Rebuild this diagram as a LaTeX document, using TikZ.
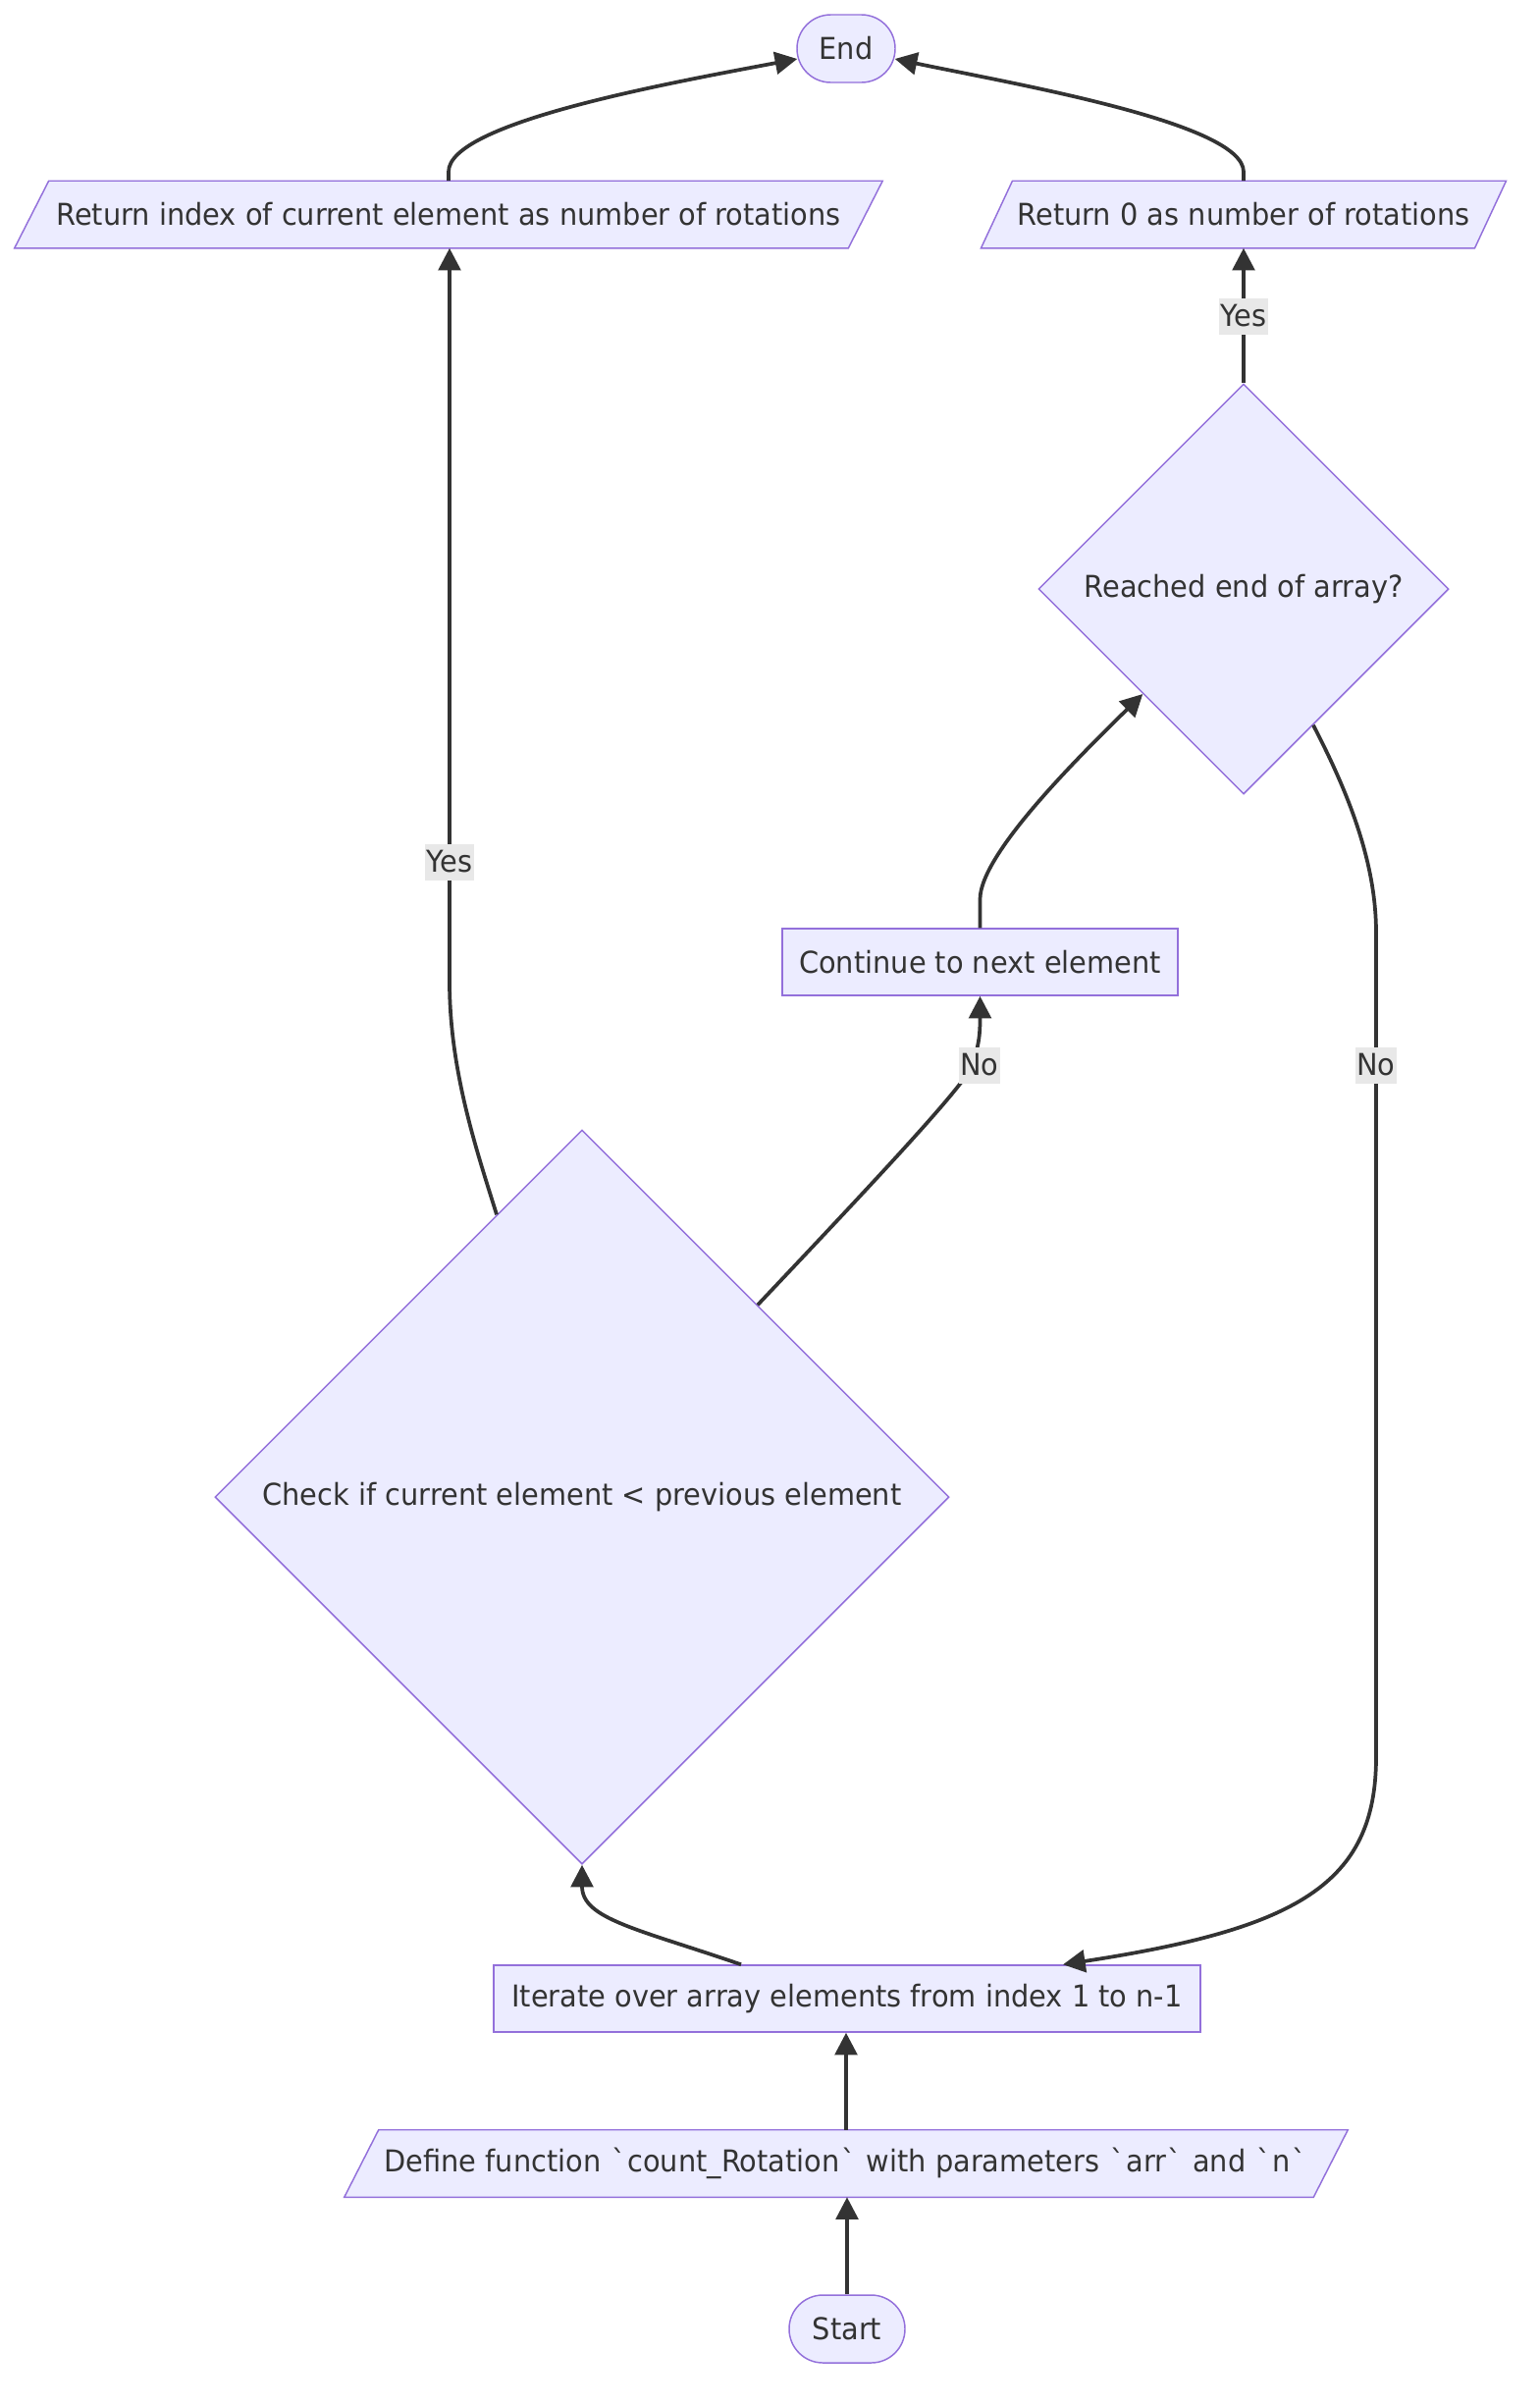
\documentclass[tikz,border=0pt]{standalone}
\usepackage{fontspec}
\newfontfamily\diagfont{DejaVu Sans}[FakeStretch=0.94]
\usetikzlibrary{shapes.geometric,arrows.meta,calc,backgrounds}
\definecolor{nodefill}{HTML}{ECECFF}
\definecolor{nodeline}{HTML}{9370DB}
\definecolor{edgeline}{HTML}{333333}
\definecolor{labelbg}{HTML}{E8E8E8}
% code quote with a little breathing room
\newcommand\bq{\kern1.3pt`\kern1.3pt}
\begin{document}
\begin{tikzpicture}[x=0.75pt,y=-0.75pt,
  every node/.style={font=\diagfont\fontsize{23}{28}\selectfont, text=edgeline},
  shapebase/.style={draw=nodeline, fill=nodefill, line width=1.1pt},
  terminal/.style={shapebase, rectangle, rounded corners=25.8pt, minimum height=51.75pt, inner sep=0pt},
  process/.style={shapebase, rectangle, minimum height=51pt, inner sep=0pt},
  iotext/.style={rectangle, minimum height=51pt, inner sep=0pt},
  decision/.style={shapebase, diamond, aspect=1, inner sep=0pt},
  flow/.style={draw=edgeline, line width=2.8pt, -{Triangle[length=17pt,width=17pt]}},
  edgelabel/.style={fill=labelbg, inner xsep=1pt, inner ysep=0pt, minimum height=27.75pt}
]
\useasboundingbox (0,0) rectangle (1568,2450);

% nodes
\node[terminal, minimum width=75pt] (end) at (862,49.5) {End};
\node[iotext, minimum width=849*0.75pt] (ret1) at (457,218.5) {Return index of current element as number of rotations};
\node[iotext, minimum width=502.5*0.75pt] (ret0) at (1267,218.5) {Return 0 as number of rotations};
\node[decision, minimum width=418*0.75pt, minimum height=418*0.75pt] (reached) at (1267,600) {Reached end of array?};
\node[process, minimum width=403*0.75pt] (cont) at (998.5,980) {Continue to next element};
\node[decision, minimum width=748*0.75pt, minimum height=748*0.75pt] (check) at (593,1525) {Check if current element < previous element};
\node[process, minimum width=720*0.75pt] (iter) at (863,2036) {Iterate over array elements from index 1 to n-1};
\node[iotext, minimum width=987*0.75pt] (define) at (862,2204) {Define function \bq count\_Rotation\bq{} with parameters \bq arr\bq{} and \bq n\bq};
\node[terminal, minimum width=88.5pt] (start) at (863,2372.5) {Start};

% white page and parallelogram outlines for the input/output steps
\begin{scope}[on background layer]
  \fill[white] (0,0) rectangle (1568,2450);
  \draw[shapebase] ([xshift=-13.1pt]ret1.south west) -- ([xshift=13.1pt]ret1.north west)
    -- ([xshift=13.1pt]ret1.north east) -- ([xshift=-13.1pt]ret1.south east) -- cycle;
  \draw[shapebase] ([xshift=-12pt]ret0.south west) -- ([xshift=12pt]ret0.north west)
    -- ([xshift=12pt]ret0.north east) -- ([xshift=-12pt]ret0.south east) -- cycle;
  \draw[shapebase] ([xshift=-13.1pt]define.south west) -- ([xshift=13.1pt]define.north west)
    -- ([xshift=13.1pt]define.north east) -- ([xshift=-13.1pt]define.south east) -- cycle;
\end{scope}

% connectors
\draw[flow] (start.north) -- (start.north |- define.south);
\draw[flow] (define.north) -- (define.north |- iter.south);
\draw[flow] ($(iter.north)+(-108,0)$) .. controls (650,1965) and (593,1955) .. (check.south);
\draw[flow] ($(check.north)+(-87,87)$) .. controls (485,1170) and (458,1090) .. (458,1000) -- (ret1.south -| 458,0);
\draw[flow] ($(check.north)+(179,179)$) .. controls (880,1215) and (960,1130) .. (985,1095)
  .. controls (998.5,1070) and (998.5,1050) .. (cont.south);
\draw[flow] (cont.north) -- (998.5,916) .. controls (998.5,870) and (1100,770) .. ($(reached.west)+(107,107)$);
\draw[flow] (reached.north) -- (ret0.south);
\draw[flow] ($(reached.south)+(71,-71)$) .. controls (1375,810) and (1402,880) .. (1402,950)
  -- (1402,1790) .. controls (1402,1920) and (1320,1965) .. ($(iter.north)+(220,0)$);
\draw[flow] (ret1.north) -- (457,175) .. controls (457,125) and (680,85) .. ($(end.west)+(1,10.5)$);
\draw[flow] (ret0.north) -- (1267,175) .. controls (1267,125) and (1030,85) .. ($(end.east)+(-1,10.5)$);

% edge labels
\node[edgelabel] (yes1) at (458,878) {Yes};
\node[edgelabel] (yes2) at (1267,322) {Yes};
\node[edgelabel] (no1) at (998,1085) {No};
\node[edgelabel] (no2) at (1402,1085) {No};
\end{tikzpicture}
\end{document}
